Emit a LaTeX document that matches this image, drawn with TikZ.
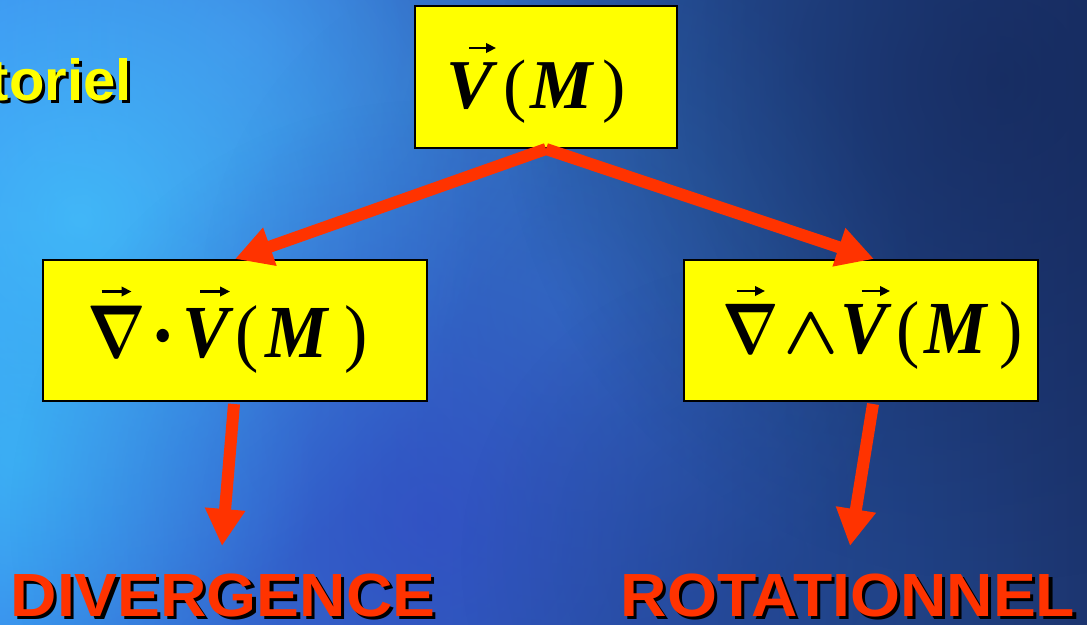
\documentclass[tikz,border=0pt]{standalone}
\usepackage{fontspec}
\usepackage{graphicx}
\usetikzlibrary{arrows.meta,fadings}
\newfontfamily\tnr{Liberation Serif}
\newfontfamily\lsans{Liberation Sans}
\definecolor{boxyellow}{HTML}{FFFF00}
\definecolor{arrowred}{HTML}{FF3300}
\definecolor{bgL}{HTML}{3A86EC}
\definecolor{bgR}{HTML}{1C3570}
\definecolor{bcyan}{HTML}{45C8FF}
\definecolor{bcyanb}{HTML}{3BB8F5}
\definecolor{blight}{HTML}{4A9AF8}
\definecolor{bmid}{HTML}{3A85D5}
\definecolor{bpurple}{HTML}{3440C8}
\definecolor{bdark}{HTML}{132555}
\definecolor{bdeep}{HTML}{1E3E88}
\tikzfading[name=softblob, inner color=transparent!0, outer color=transparent!100]
\newcommand\mth[3]{\scalebox{#1}[#2]{\normalsize\boldmath$#3$}}
\newcommand\gl[2]{\makebox[0pt][l]{\hspace*{#1pt}\makebox[0pt]{#2}}}
\newcommand\bi[1]{{\bfseries\itshape #1}}
\newcommand\shadowed[2]{\makebox[0pt][l]{\hspace*{3pt}\raisebox{-3pt}{\color{black}#2}}{\color{#1}#2}}
\begin{document}
\begin{tikzpicture}[x=1pt,y=-1pt,
  box/.style={draw=black, line width=2pt, fill=boxyellow, inner sep=0pt},
  conn/.style={draw=arrowred, line width=12pt, -{Triangle[length=37pt,width=38pt]}},
  vecarr/.style={draw=black, line width=2.4pt, -{Triangle[length=10pt,width=9.5pt]}},
  formula/.style={anchor=base west, inner sep=0pt, font=\tnr\fontsize{70}{70}\selectfont},
  lbl/.style={inner sep=0pt, font=\lsans\bfseries\fontsize{61}{61}\selectfont},
  blob/.style={path fading=softblob}]
\useasboundingbox (0,0) rectangle (1087,624);
% background
\shade[left color=bgL, right color=bgR] (0,0) rectangle (1087,624);
\fill[blob, color=blight, fill opacity=0.5] (240,40) circle (360);
\fill[blob, color=bcyan, fill opacity=0.75] (80,220) circle (400);
\fill[blob, color=bcyanb, fill opacity=0.7] (20,460) circle (300);
\fill[blob, color=bmid, fill opacity=0.45] (560,300) circle (360);
\fill[blob, color=bpurple, fill opacity=0.55] (430,520) circle (420);
\fill[blob, color=bdark, fill opacity=0.6] (1000,80) circle (500);
\fill[blob, color=bdeep, fill opacity=0.4] (760,560) circle (300);
% boxes
\node[box, minimum width=262pt, minimum height=142pt] (top) at (546,77) {};
\node[box, minimum width=384pt, minimum height=141pt] (lbox) at (235,330.5) {};
\node[box, minimum width=354pt, minimum height=141pt] (rbox) at (861,330.5) {};
% formulas
\node[formula] (ftop) at (0,108) {\gl{469.5}{\bi{V}}\gl{514.3}{(}\gl{560.5}{\bi{M}}\gl{613.7}{)}};
\node[formula] (fleft) at (0,357) {\scalebox{1}[1.07]{\gl{115.8}{\mth{6.1}{7}{\nabla}}\gl{163}{\mth{8}{8}{\cdot}}\gl{205.3}{\bi{V}}\gl{246.8}{(}\gl{296.3}{\bi{M}}\gl{355.7}{)}}};
\node[formula] (fright) at (0,353) {\scalebox{1}[1.07]{\gl{749.7}{\mth{5.9}{6.7}{\nabla}}\gl{810}{\mth{7.2}{6.4}{\wedge}}\gl{863.5}{\bi{V}}\gl{907.3}{(}\gl{954.5}{\bi{M}}\gl{1010.2}{)}}};
% vector arrows over the symbols
\draw[vecarr] (469,48) -- (496,48);
\draw[vecarr] (101.5,291.5) -- (131.5,291.5);
\draw[vecarr] (200,291.5) -- (230,291.5);
\draw[vecarr] (736.5,291) -- (765,291);
\draw[vecarr] (861.5,291) -- (890,291);
% connectors
\coordinate (dl) at (222,546);
\coordinate (dr) at (850,546);
\draw[conn] (top.south) -- (lbox.north);
\draw[conn] (top.south) -- ([xshift=13pt]rbox.north);
\draw[conn] ([xshift=-1pt,yshift=-2pt]lbox.south) -- (dl);
\draw[conn] ([xshift=12pt,yshift=-2pt]rbox.south) -- (dr);
% labels
\node[lbl, anchor=base east, font=\lsans\bfseries\fontsize{58}{58}\selectfont] (tor) at (132,100) {\shadowed{boxyellow}{toriel}};
\node[lbl, anchor=base west] (div) at (10.5,616) {\scalebox{1.053}[1]{\shadowed{arrowred}{DIVERGENCE}}};
\node[lbl, anchor=base west] (rot) at (620.5,616) {\scalebox{1.053}[1]{\shadowed{arrowred}{ROTATIONNEL}}};
\end{tikzpicture}
\end{document}
